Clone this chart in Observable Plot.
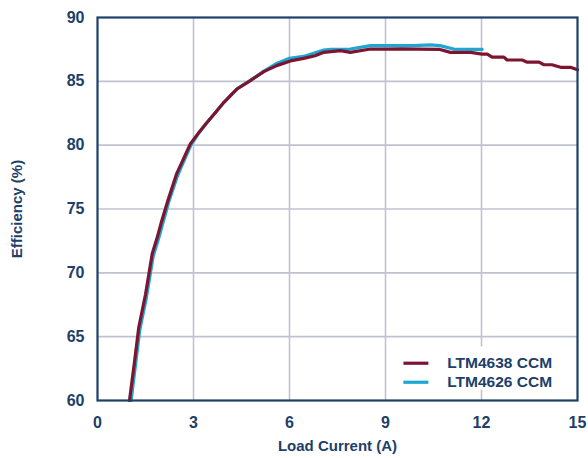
<!DOCTYPE html>
<html>
<head>
<meta charset="utf-8">
<script src="https://cdn.jsdelivr.net/npm/d3@7"></script>
<script src="https://cdn.jsdelivr.net/npm/@observablehq/plot@0.6"></script>
<style>
  html, body { margin: 0; padding: 0; background: #fff; }
</style>
</head>
<body>
<div id="chart"></div>
<script>
// Series: LTM4638 CCM (dark red)
const x4638 = [1.0, 1.15, 1.29, 1.5, 1.71, 1.87, 2.0, 2.2, 2.47, 2.59, 2.9, 3.17, 3.38, 3.7, 3.95, 4.36, 4.68, 5.2, 5.6, 6.03, 6.44, 6.8, 7.07, 7.6, 7.9, 8.53, 9.05, 9.5, 10.0, 10.7, 11.03, 11.66, 12.02, 12.18, 12.33, 12.7, 12.8, 13.27, 13.43, 13.8, 13.95, 14.2, 14.47, 14.78, 15.0];
const y4638 = [60.0, 62.9, 65.74, 68.3, 71.5, 72.8, 74.0, 75.66, 77.75, 78.4, 80.1, 81.0, 81.66, 82.6, 83.36, 84.4, 84.9, 85.76, 86.23, 86.6, 86.8, 87.0, 87.27, 87.4, 87.27, 87.53, 87.53, 87.55, 87.53, 87.5, 87.27, 87.27, 87.13, 87.13, 86.9, 86.9, 86.67, 86.67, 86.5, 86.5, 86.3, 86.3, 86.1, 86.1, 85.9];
// Series: LTM4626 CCM (cyan)
const x4626 = [1.05, 1.32, 1.53, 1.74, 1.9, 2.22, 2.5, 2.62, 2.92, 3.18, 3.4, 3.97, 4.38, 4.7, 5.2, 5.6, 6.0, 6.44, 7.07, 7.28, 7.9, 8.53, 9.2, 9.88, 10.4, 10.7, 11.13, 12.02];
const y4626 = [60.0, 65.5, 68.1, 71.3, 72.6, 75.5, 77.6, 78.3, 80.0, 81.0, 81.7, 83.4, 84.45, 84.95, 85.8, 86.4, 86.8, 86.95, 87.45, 87.5, 87.53, 87.8, 87.8, 87.8, 87.85, 87.8, 87.53, 87.5];

const xTicks = [0, 3, 6, 9, 12, 15];
const yTicks = [60, 65, 70, 75, 80, 85, 90];
const xLabel = "Load Current (A)";
const yLabel = "Efficiency (%)";
const seriesNames = ["LTM4638 CCM", "LTM4626 CCM"];
const seriesColors = ["#7d1530", "#1ba6d3"];

// legend placement (data units)
const legendBox = [{x1: 9.35, x2: 15, y1: 60.8, y2: 64.2}];
const legendY = [62.92, 61.43];
const legendSwatchX = [9.56, 10.34];
const legendTextX = 10.93;

const navy = "#1c4068";
const gridColor = "#bfc2d2";

const d4638 = x4638.map((x, i) => ({x, y: y4638[i]}));
const d4626 = x4626.map((x, i) => ({x, y: y4626[i]}));
const legendRows = seriesNames.map((name, i) => ({name, color: seriesColors[i], y: legendY[i]}));

const chart = Plot.plot({
  width: 588,
  height: 458,
  marginLeft: 97,
  marginRight: 11,
  marginTop: 17,
  marginBottom: 58,
  style: {fontFamily: "'Liberation Sans', Arial, sans-serif", fontWeight: "bold", fontSize: "16px", color: navy, background: "#fff"},
  x: {domain: [0, 15], ticks: xTicks, label: null, tickSize: 0, tickPadding: 17},
  y: {domain: [60, 90], ticks: yTicks, label: null, tickSize: 0, tickPadding: 14},
  marks: [
    Plot.gridX(xTicks.slice(1, -1), {stroke: gridColor, strokeOpacity: 1, strokeWidth: 1.6}),
    Plot.gridY(yTicks.slice(1, -1), {stroke: gridColor, strokeOpacity: 1, strokeWidth: 1.6}),
    Plot.line(d4626, {x: "x", y: "y", stroke: seriesColors[1], strokeWidth: 3.2}),
    Plot.line(d4638, {x: "x", y: "y", stroke: seriesColors[0], strokeWidth: 3.2}),
    Plot.rect(legendBox, {x1: "x1", x2: "x2", y1: "y1", y2: "y2", fill: "#fff"}),
    Plot.link(legendRows, {x1: legendSwatchX[0], x2: legendSwatchX[1], y1: "y", y2: "y", stroke: "color", strokeWidth: 3.2}),
    Plot.text(legendRows, {x: legendTextX, y: "y", text: "name", textAnchor: "start", fill: navy, fontSize: 15.5, fontWeight: "bold"}),
    Plot.frame({stroke: navy, strokeWidth: 2.2}),
    Plot.axisX({ticks: xTicks, tickSize: 0, tickPadding: 16, label: null, fill: navy, fontSize: 16}),
    Plot.axisY({ticks: yTicks, tickSize: 0, tickPadding: 13, label: null, fill: navy, fontSize: 16}),
    Plot.text([xLabel], {frameAnchor: "bottom", dy: 50, text: d => d, fill: navy, fontSize: 15, fontWeight: "bold"}),
    Plot.text([yLabel], {frameAnchor: "left", dx: -80, rotate: -90, textAnchor: "middle", text: d => d, fill: navy, fontSize: 15, fontWeight: "bold", style: "letter-spacing: 0.8px"})
  ]
});
document.getElementById("chart").appendChild(chart);
</script>
</body>
</html>
